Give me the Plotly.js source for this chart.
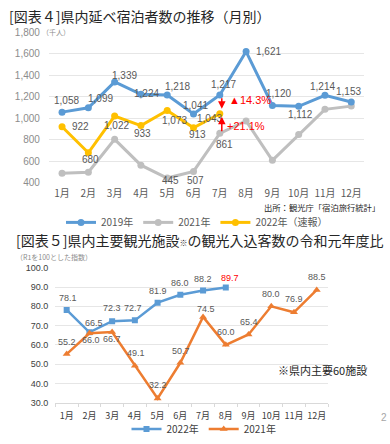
<!DOCTYPE html>
<html><head><meta charset="utf-8">
<script src="https://cdn.plot.ly/plotly-3.0.1.min.js"></script>
<style>html,body{margin:0;padding:0;background:#fff;}#chart{width:390px;height:444px;}</style>
</head><body><div id="chart"></div>
<script>
// ---- data ----
const months = ['1月','2月','3月','4月','5月','6月','7月','8月','9月','10月','11月','12月'];
const stay2019 = [1058,1099,1339,1224,1218,1041,1217,1621,1120,1112,1214,1153];
const stay2021 = [490,499,805,565,445,507,861,976,610,850,1084,1114];
const stay2022 = [922,680,1022,933,1073,913,1043];
const stay2021Labeled = [4,5,6];
const stayTicks = [400,600,800,1000,1200,1400,1600,1800];
const idx2022 = [78.1,66.5,72.3,72.7,81.9,86.0,88.2,89.7];
const idx2021 = [55.2,66.0,66.7,49.1,32.2,50.7,74.5,60.0,65.4,80.0,76.9,88.5];
const idxTicks = [30,40,50,60,70,80,90,100];

// ---- label offsets (style only) ----
const off2019 = [[4,12],[12,9],[10,6],[6,1],[10,8],[2,8],[4,11],[22,0],[6,12],[2,-8],[-2,9],[-3,10]];
const off2022 = [[18,0],[2,-7],[2,-9],[2,-8],[7,-10],[4,-7],[-10,-5]];
const off2021 = [[3,-2],[2,-9],[5,-11]];
const offI22 = [[1,12],[5,9],[0,13],[-2,12],[0,12],[0,12],[0,12],[4,10]];
const offI21 = [[0,12],[2,-7],[0,-7],[1,13],[0,13],[1,12],[3,8],[0,13],[0,12],[0,12],[0,13],[0,13]];

const FONT = 'Liberation Sans, Noto Sans CJK JP, sans-serif';
const JP = 'Noto Sans CJK JP, sans-serif';
const BLUE = '#5B9BD5', GRAY = '#BFBFBF', YEL = '#FFC000', ORG = '#ED7D31';
const fmt = v => v.toLocaleString('en-US');

const t2019 = {x: months, y: stay2019, name: '2019年', type: 'scatter', mode: 'lines+markers', legendrank: 1,
   line: {color: BLUE, width: 3}, marker: {color: BLUE, size: 7, symbol: 'circle'}, xaxis: 'x', yaxis: 'y', legend: 'legend'};
const t2021 = {x: months, y: stay2021, name: '2021年', type: 'scatter', mode: 'lines+markers', legendrank: 2,
   line: {color: GRAY, width: 3}, marker: {color: GRAY, size: 7, symbol: 'circle'}, xaxis: 'x', yaxis: 'y', legend: 'legend'};
const t2022 = {x: months.slice(0, stay2022.length), y: stay2022, name: '2022年（速報）', type: 'scatter', mode: 'lines+markers', legendrank: 3,
   line: {color: YEL, width: 3}, marker: {color: YEL, size: 7, symbol: 'circle'}, xaxis: 'x', yaxis: 'y', legend: 'legend'};
const tI22 = {x: months.slice(0, idx2022.length), y: idx2022, name: '2022年', type: 'scatter', mode: 'lines+markers',
   line: {color: BLUE, width: 2.5}, marker: {color: BLUE, size: 6, symbol: 'square'}, xaxis: 'x2', yaxis: 'y2', legend: 'legend2'};
const tI21 = {x: months, y: idx2021, name: '2021年', type: 'scatter', mode: 'lines+markers',
   line: {color: ORG, width: 2.5}, marker: {color: ORG, size: 7, symbol: 'triangle-up'}, xaxis: 'x2', yaxis: 'y2', legend: 'legend2'};
const traces = [t2021, t2019, t2022, tI22, tI21];

const ann = [];
const lab = (xa, ya, x, y, text, d, color, size) => ann.push({
  xref: xa, yref: ya, x: x, y: y, text: text, showarrow: false, xanchor: 'center', yanchor: 'middle',
  xshift: d[0], yshift: d[1], font: {family: FONT, size: size, color: color}});
stay2019.forEach((v, i) => lab('x', 'y', months[i], v, fmt(v), off2019[i], '#595959', 10));
stay2022.forEach((v, i) => lab('x', 'y', months[i], v, fmt(v), off2022[i], '#595959', 10));
stay2021Labeled.forEach((k, j) => lab('x', 'y', months[k], stay2021[k], fmt(stay2021[k]), off2021[j], '#595959', 10));
idx2022.forEach((v, i) => lab('x2', 'y2', months[i], v, v.toFixed(1), offI22[i], i === idx2022.length - 1 ? '#FF0000' : '#595959', 9));
idx2021.forEach((v, i) => lab('x2', 'y2', months[i], v, v.toFixed(1), offI21[i], '#595959', 9));

// comparison arrows at the latest month
const k = stay2022.length - 1;
const dec = (stay2019[k] - stay2022[k]) / stay2019[k] * 100;
const inc = (stay2022[k] - stay2021[k]) / stay2021[k] * 100;
ann.push({xref: 'x', yref: 'y', x: months[k], y: stay2022[k], xshift: 2, yshift: 5, ax: 0, ay: -12,
  showarrow: true, arrowhead: 2, arrowsize: 1, arrowwidth: 1.5, arrowcolor: '#FF0000', text: ''});
ann.push({xref: 'x', yref: 'y', x: months[k], y: stay2022[k], xshift: 2, yshift: -3, ax: 0, ay: 16,
  showarrow: true, arrowhead: 2, arrowsize: 1, arrowwidth: 1.5, arrowcolor: '#FF0000', text: ''});
ann.push({xref: 'x', yref: 'y', x: months[k], y: stay2022[k], xshift: 7, yshift: 14, xanchor: 'left', yanchor: 'middle',
  showarrow: false, text: '▲' + dec.toFixed(1) + '%', font: {family: FONT, size: 11, color: '#FF0000'}});
ann.push({xref: 'x', yref: 'y', x: months[k], y: stay2022[k], xshift: 5, yshift: -12, xanchor: 'left', yanchor: 'middle',
  showarrow: false, text: '+' + inc.toFixed(1) + '%', font: {family: FONT, size: 11, color: '#FF0000'}});

// titles & notes
const P = (x, y, text, size, color, anchor, fam) => ann.push({xref: 'paper', yref: 'paper', x: x / 390, y: 1 - y / 444,
  text: text, showarrow: false, xanchor: anchor || 'left', yanchor: 'middle', font: {family: fam || JP, size: size, color: color}});
P(7, 16, '[図表４]県内延べ宿泊者数の推移（月別）', 14, '#262626');
P(40, 33, '（千人）', 7, '#8c8c8c');
P(382, 211.5, '出所：観光庁「宿泊旅行統計」', 8.3, '#262626', 'right');
P(14, 245, '[図表５]県内主要観光施設<span style="font-size:8px">※</span>の観光入込客数の令和元年度比', 14, '#262626');
P(14, 262, '（R1を100とした指数）', 7, '#8c8c8c');
P(276, 378, '※県内主要60施設', 11, '#262626');
P(384, 426, '2', 10, '#a6a6a6', 'center', FONT);

const layout = {
  width: 390, height: 444, autosize: false,
  margin: {l: 0, r: 0, t: 0, b: 0, pad: 0},
  paper_bgcolor: '#ffffff', plot_bgcolor: '#ffffff',
  font: {family: FONT, color: '#595959'},
  xaxis: {domain: [48.9/390, 364.4/390], type: 'category', range: [-0.5, 11.5], showgrid: false, zeroline: false,
    showline: false, ticks: '', tickangle: 0, tickfont: {size: 10, family: JP, color: '#595959'}, ticklabelstandoff: 3},
  yaxis: {domain: [1 - 186.7/444, 1 - 33/444], range: [400, 1800], tickvals: stayTicks, tickformat: ',d',
    showgrid: true, gridcolor: '#e6e6e6', gridwidth: 1, zeroline: false, showline: false,
    tickfont: {size: 10, color: '#8c8c8c'}, ticklabelstandoff: 8},
  xaxis2: {domain: [55.3/390, 328.1/390], type: 'category', range: [-0.5, 11.5], showgrid: false, zeroline: false,
    showline: true, linecolor: '#d9d9d9', linewidth: 1, ticks: 'outside', ticklen: 3, tickcolor: '#d9d9d9', tickson: 'boundaries',
    tickangle: 0, tickfont: {size: 9, family: JP, color: '#404040'}, ticklabelstandoff: 5, anchor: 'y2'},
  yaxis2: {domain: [1 - 411/444, 1 - 273.3/444], range: [30, 100], tickvals: idxTicks, tickformat: '.1f',
    showgrid: true, gridcolor: '#e6e6e6', gridwidth: 1, zeroline: false, showline: false,
    tickfont: {size: 9, color: '#404040'}, ticklabelstandoff: 6, anchor: 'x2'},
  legend: {orientation: 'h', x: 197/390, y: 1 - 227/444, xanchor: 'center', yanchor: 'middle',
    font: {size: 10, family: JP, color: '#595959'}, bgcolor: 'rgba(0,0,0,0)', itemwidth: 30, traceorder: 'normal',
    tracegroupgap: 0},
  legend2: {orientation: 'h', x: 204/390, y: 1 - 438/444, xanchor: 'center', yanchor: 'middle',
    font: {size: 10, family: JP, color: '#404040'}, bgcolor: 'rgba(0,0,0,0)', itemwidth: 30},
  showlegend: true,
  annotations: ann
};
Plotly.newPlot('chart', traces, layout, {staticPlot: true, displayModeBar: false});
</script>
</body></html>
